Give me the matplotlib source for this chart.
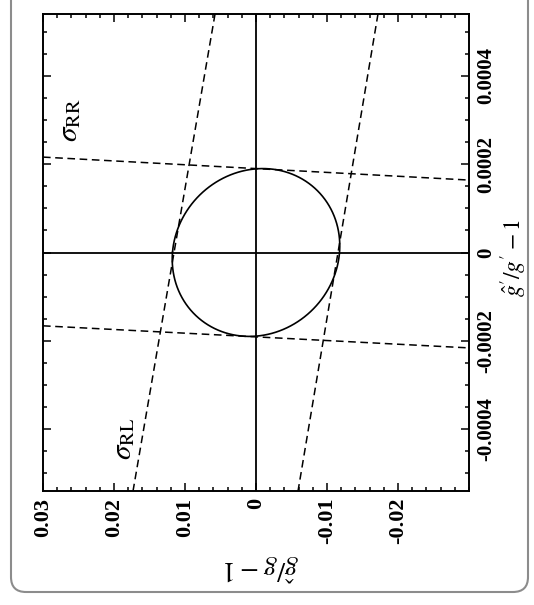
import numpy as np
import matplotlib.pyplot as plt
from matplotlib.patches import FancyBboxPatch
from matplotlib.ticker import MultipleLocator, FixedLocator

plt.rcParams['font.family'] = ['Liberation Serif', 'DejaVu Serif']
plt.rcParams['mathtext.fontset'] = 'stix'

# horizontal: ghat/g - 1 (drawn decreasing to the right), vertical: ghat'/g' - 1
x_ticks = [0.03, 0.02, 0.01, 0.0, -0.01, -0.02]
x_labels = ["0.03", "0.02", "0.01", "0", "-0.01", "-0.02"]
y_ticks = [-0.0004, -0.0002, 0.0, 0.0002, 0.0004]
y_labels = ["-0.0004", "-0.0002", "0", "0.0002", "0.0004"]

# sigma_RR band edges (nearly flat)
rr_x = [0.03, -0.03]
rr_upper = [0.000216, 0.000164]
rr_lower = [-0.000166, -0.000216]

# sigma_RL band edges (steep)
rl_y = [0.00054, -0.00054]
rl_left = [0.00577, 0.01732]
rl_right = [-0.01718, -0.00592]

# combined ellipse: semi-axes and skew
ell_a = 0.0118
ell_b = 0.00019
ell_skew = 0.08

fig = plt.figure(figsize=(5.34, 6.05), dpi=100)
ax = fig.add_axes([43 / 534, 1 - 491 / 605, 426 / 534, 477 / 605])

ax.axhline(0, color='black', lw=1.3)
ax.axvline(0, color='black', lw=1.3)

dash = dict(color='black', lw=1.1, linestyle=(0, (5, 3)))
ax.plot(rr_x, rr_upper, **dash)
ax.plot(rr_x, rr_lower, **dash)
ax.plot(rl_left, rl_y, **dash)
ax.plot(rl_right, rl_y, **dash)

t = np.linspace(0, 2 * np.pi, 400)
ax.plot(ell_a * np.cos(t + ell_skew), ell_b * np.sin(t), color='black', lw=1.2)

ax.text(0.0262, 0.0003, r"$\sigma_{\rm RR}$", rotation=90, fontsize=21,
        ha='center', va='center')
ax.text(0.0186, -0.000423, r"$\sigma_{\rm RL}$", rotation=90, fontsize=21,
        ha='center', va='center')

ax.set_xlim(0.03, -0.03)
ax.set_ylim(-0.00054, 0.00054)

ax.xaxis.set_major_locator(FixedLocator(x_ticks))
ax.set_xticklabels(x_labels, rotation=90, fontsize=16, fontweight='bold')
ax.xaxis.set_minor_locator(MultipleLocator(0.002))
ax.yaxis.set_major_locator(FixedLocator(y_ticks))
ax.set_yticklabels(y_labels, rotation=90, va='center', fontsize=15,
                   fontweight='bold')
ax.yaxis.set_minor_locator(MultipleLocator(0.00005))

ax.tick_params(which='both', direction='in', top=True, bottom=True,
               left=True, right=True, labelleft=False, labelright=True,
               width=1.1)
ax.tick_params(which='major', length=6, pad=5)
ax.tick_params(which='minor', length=3)
for s in ax.spines.values():
    s.set_linewidth(1.4)

fig.text(261 / 534, 1 - 568 / 605, r"$\hat{g}/g - 1$", rotation=180,
         fontsize=20, ha='center', va='center')
fig.text(514 / 534, 1 - 258 / 605, r"$\hat{g}'/g' - 1$", rotation=90,
         fontsize=17, ha='center', va='center')

frame = FancyBboxPatch((0.11, 0.13), 5.17, 6.2,
                       boxstyle="round,pad=0,rounding_size=0.15",
                       transform=fig.dpi_scale_trans, fill=False,
                       edgecolor='#8c8c8c', lw=1.5, clip_on=False)
fig.patches.append(frame)

fig.savefig("out.png", dpi=100)
